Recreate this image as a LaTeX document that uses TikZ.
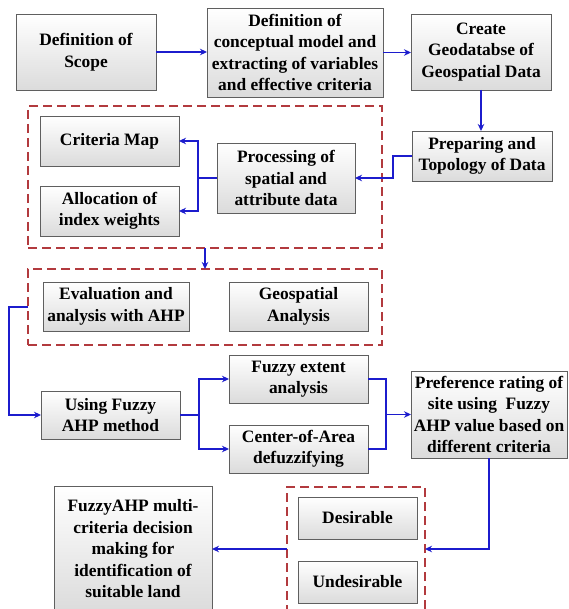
\documentclass[tikz,border=0pt]{standalone}
\usepackage{fontspec}
\setmainfont{Liberation Serif}
\usetikzlibrary{arrows.meta,calc}
\definecolor{arrblue}{RGB}{28,28,205}
\definecolor{dashred}{RGB}{178,58,62}
\definecolor{boxedge}{RGB}{95,95,95}
\begin{document}
\begin{tikzpicture}[x=1pt,y=-1pt,
  stepbox/.style={draw=boxedge, line width=0.9pt, top color=white, bottom color=black!14,
    inner sep=0pt, outer sep=0pt, align=center,
    font=\fontsize{17.4}{21.5}\selectfont\bfseries},
  groupbox/.style={draw=dashred, line width=2pt, dash pattern=on 9pt off 5pt,
    inner sep=0pt, outer sep=0pt},
  wire/.style={draw=arrblue, line width=1.5pt},
  arr/.style={wire, -{Stealth[length=7pt,width=6.5pt]}}
]
\useasboundingbox (0,0) rectangle (568,609);

% dashed group containers
\node[groupbox, minimum width=354pt, minimum height=142pt] (g1) at (205,177) {};
\node[groupbox, minimum width=354pt, minimum height=76pt] (g2) at (205,307) {};
\node[groupbox, minimum width=138pt, minimum height=124pt] (g3) at (356,549) {};

% boxes
\node[stepbox, minimum width=140pt, minimum height=76pt] (b1) at (86,52) {Definition of\\Scope};
\node[stepbox, minimum width=176pt, minimum height=89pt] (b2) at (295,52.5) {Definition of\\conceptual model and\\extracting of variables\\and effective criteria};
\node[stepbox, minimum width=140pt, minimum height=76pt] (b3) at (481,52) {Create\\Geodatabse of\\Geospatial Data};
\node[stepbox, minimum width=140pt, minimum height=50pt] (b4) at (482,156) {Preparing and\\Topology of Data};

\node[stepbox, minimum width=139pt, minimum height=50pt] (crit) at (109.5,141) {Criteria Map};
\node[stepbox, minimum width=139pt, minimum height=50pt] (alloc) at (109.5,211) {Allocation of\\index weights};
\node[stepbox, minimum width=138pt, minimum height=70pt] (proc) at (286,178) {Processing of\\spatial and\\attribute data};

\node[stepbox, minimum width=146pt, minimum height=49pt] (eval) at (116,306.5) {Evaluation and\\analysis with AHP};
\node[stepbox, minimum width=139pt, minimum height=49pt] (geo) at (298.5,306.5) {Geospatial\\Analysis};

\node[stepbox, minimum width=139pt, minimum height=48pt] (fuzzy) at (110.5,415) {Using Fuzzy\\AHP method};
\node[stepbox, minimum width=139pt, minimum height=48pt] (fext) at (298.5,379) {Fuzzy extent\\analysis};
\node[stepbox, minimum width=139pt, minimum height=48pt] (coa) at (298.5,449) {Center-of-Area\\defuzzifying};
\node[stepbox, minimum width=156pt, minimum height=87pt] (pref) at (489,414.5) {Preference rating of\\site using\ \ Fuzzy\\AHP value based on\\different criteria};

\node[stepbox, minimum width=119pt, minimum height=42pt] (des) at (357.5,518) {Desirable};
\node[stepbox, minimum width=119pt, minimum height=42pt] (undes) at (357.5,582) {Undesirable};
\node[stepbox, minimum width=158pt, minimum height=126pt] (fahp) at (133,549) {FuzzyAHP multi-\\criteria decision\\making for\\identification of\\suitable land};

% junction coordinates
\coordinate (j1) at (393,156);
\coordinate (j2) at (198,178);
\coordinate (j3) at (9,307);
\coordinate (j4) at (199,415);
\coordinate (j5) at (386,414.5);

% connectors
\draw[arr] (b1.east) -- (b1.east -| b2.west);
\draw[arr] (b2.east) -- (b2.east -| b3.west);
\draw[arr] (b3.south) -- (b3.south |- b4.north);
\draw[arr] (b4.west) -- (j1) |- (proc.east);
\draw[wire] (proc.west) -- (j2);
\draw[arr] (j2) |- (crit.east);
\draw[arr] (j2) |- (alloc.east);
\draw[arr] (g1.south) -- (g2.north);
\draw[arr] (g2.west) -- (j3) |- (fuzzy.west);
\draw[wire] (fuzzy.east) -- (j4);
\draw[arr] (j4) |- (fext.west);
\draw[arr] (j4) |- (coa.west);
\draw[wire] (fext.east) -| (j5);
\draw[wire] (coa.east) -| (j5);
\draw[arr] (j5) -- (pref.west);
\draw[arr] (pref.south) |- (g3.east);
\draw[arr] (g3.west) -- (fahp.east);
\end{tikzpicture}
\end{document}
